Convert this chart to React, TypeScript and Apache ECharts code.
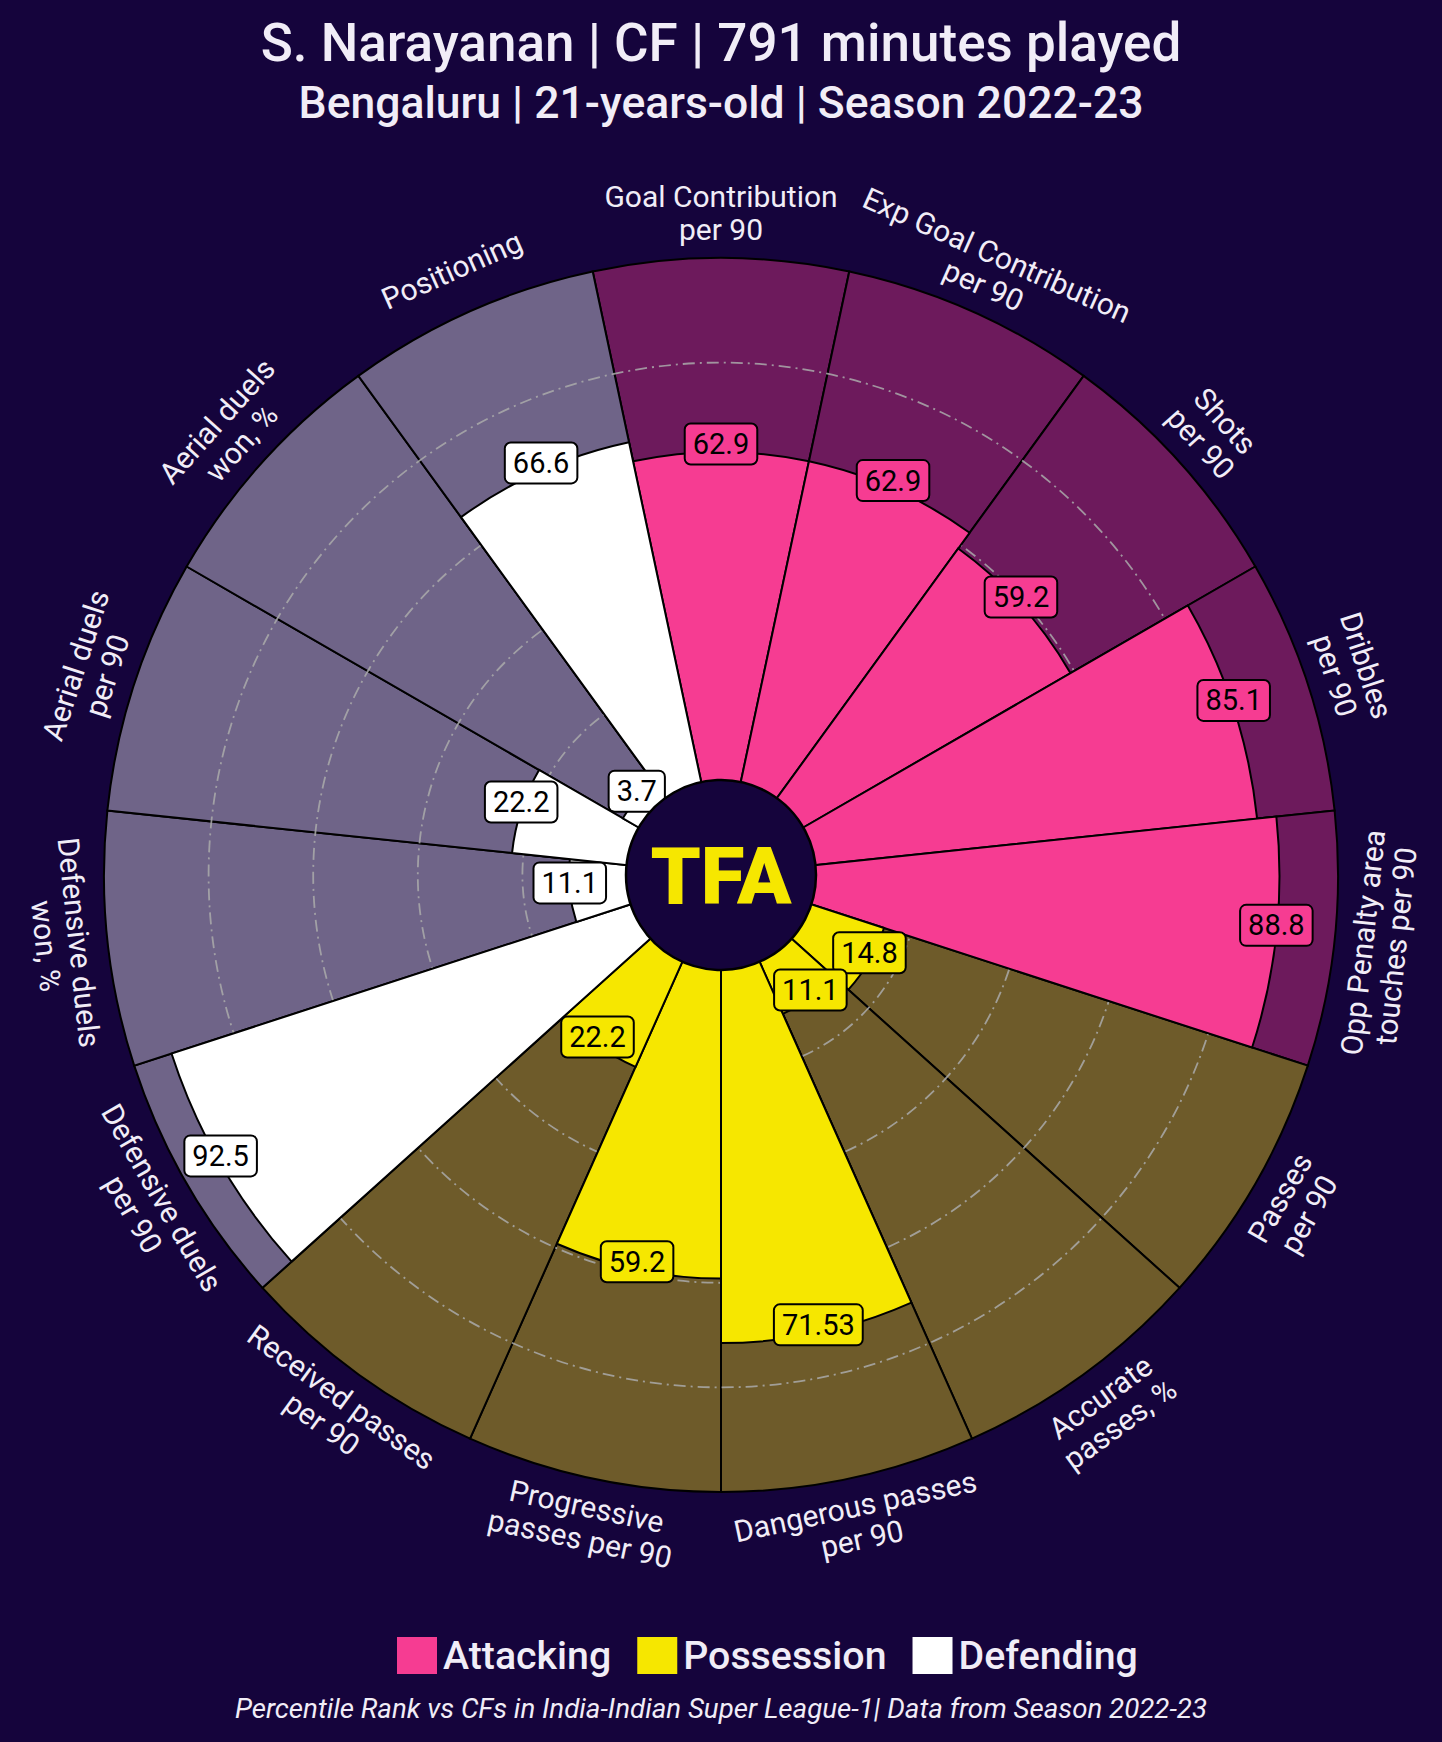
import React, { useEffect, useRef } from 'react';
import * as echarts from 'echarts';

const categories = [
  'Goal Contribution\nper 90',
  'Exp Goal Contribution\nper 90',
  'Shots\nper 90',
  'Dribbles\nper 90',
  'Opp Penalty area\ntouches per 90',
  'Passes\nper 90',
  'Accurate\npasses, %',
  'Dangerous passes\nper 90',
  'Progressive\npasses per 90',
  'Received passes\nper 90',
  'Defensive duels\nper 90',
  'Defensive duels\nwon, %',
  'Aerial duels\nper 90',
  'Aerial duels\nwon, %',
  'Positioning',
];
const values = [62.9, 62.9, 59.2, 85.1, 88.8, 14.8, 11.1, 71.53, 59.2, 22.2, 92.5, 11.1, 22.2, 3.7, 66.6];
const groups = [
  'Attacking', 'Attacking', 'Attacking', 'Attacking', 'Attacking',
  'Possession', 'Possession', 'Possession', 'Possession', 'Possession',
  'Defending', 'Defending', 'Defending', 'Defending', 'Defending',
];
const groupNames = ['Attacking', 'Possession', 'Defending'];
const gridValues = [20, 40, 60, 80];
const maxValue = 100;

const BG = '#15043c';
const TEXT = '#f1edf7';
const barColors: Record<string, string> = { Attacking: '#f63c92', Possession: '#f6e700', Defending: '#ffffff' };
const bgColors: Record<string, string> = { Attacking: '#6d1a5c', Possession: '#6e5b2a', Defending: '#6f6488' };
const FONT = 'Roboto, "Noto Sans", sans-serif';

export default function App() {
  const ref = useRef<HTMLDivElement>(null);
  useEffect(() => {
    document.body.style.margin = '0';
    document.body.style.background = BG;
    const chart = echarts.init(ref.current!, null, { renderer: 'svg' });
    const barCommon = {
      type: 'bar',
      coordinateSystem: 'polar',
      barCategoryGap: '0%',
      barGap: '-100%',
      silent: true,
    };
    const option: any = {
      animation: false,
      backgroundColor: BG,
      title: [
        {
          text: 'S. Narayanan | CF | 791 minutes played',
          left: 'center', top: 16, padding: 0,
          textStyle: { color: TEXT, fontSize: 53, fontWeight: 500, fontFamily: FONT },
        },
        {
          text: 'Bengaluru | 21-years-old | Season 2022-23',
          left: 'center', top: 80, padding: 0,
          textStyle: { color: TEXT, fontSize: 44.5, fontWeight: 500, fontFamily: FONT },
        },
        {
          text: 'Percentile Rank vs CFs in India-Indian Super League-1| Data from Season 2022-23',
          left: 'center', top: 1694, padding: 0,
          textStyle: { color: TEXT, fontSize: 27.7, fontWeight: 'normal', fontStyle: 'italic', fontFamily: FONT },
        },
      ],
      legend: {
        data: groupNames,
        left: 397, top: 1636, padding: 0,
        icon: 'rect', itemWidth: 40, itemHeight: 37, itemGap: 26,
        itemStyle: { borderWidth: 0 },
        textStyle: { color: TEXT, fontSize: 39.3, fontWeight: 500, fontFamily: FONT, padding: [0, 0, 0, 1] },
        selectedMode: false,
      },
      polar: { center: [721, 875], radius: [94, 617] },
      angleAxis: {
        type: 'category', data: categories, startAngle: 102, clockwise: true,
        axisLine: { show: false }, axisTick: { show: false }, axisLabel: { show: false }, splitLine: { show: false },
      },
      radiusAxis: {
        min: 0, max: maxValue,
        axisLine: { show: false }, axisTick: { show: false }, axisLabel: { show: false }, splitLine: { show: false },
      },
      series: [
        {
          ...barCommon,
          name: 'background',
          z: 1,
          data: categories.map((c, i) => ({ value: maxValue, itemStyle: { color: bgColors[groups[i]] } })),
          itemStyle: { borderColor: '#000', borderWidth: 2 },
        },
        {
          type: 'custom', coordinateSystem: 'polar', name: 'grid', z: 2, silent: true,
          data: gridValues.map((v) => [v, 0]),
          renderItem: (params: any, api: any) => {
            const cs = params.coordSys;
            const p = api.coord([api.value(0), 0]);
            const r = Math.hypot(p[0] - cs.cx, p[1] - cs.cy);
            return {
              type: 'circle',
              shape: { cx: cs.cx, cy: cs.cy, r },
              style: { fill: 'none', stroke: 'rgba(170,170,170,0.85)', lineWidth: 1.8, lineDash: [12, 5, 2, 5] },
            };
          },
        },
        ...groupNames.map((g) => ({
          ...barCommon,
          name: g,
          z: 3,
          data: values.map((v, i) => (groups[i] === g ? v : '-')),
          itemStyle: { color: barColors[g], borderColor: '#000', borderWidth: 2 },
        })),
        {
          type: 'custom', coordinateSystem: 'polar', name: 'valueLabels', z: 6, silent: true,
          data: values.map((v, i) => [v, i]),
          renderItem: (params: any, api: any) => {
            const i = api.value(1);
            const p = api.coord([api.value(0), i]);
            return {
              type: 'text',
              x: p[0], y: p[1] - 8,
              z2: 10,
              style: {
                text: String(values[i]),
                fill: '#000',
                fontSize: 29,
                fontFamily: FONT,
                align: 'center',
                verticalAlign: 'middle',
                backgroundColor: barColors[groups[i]],
                borderColor: '#000',
                borderWidth: 2,
                borderRadius: 5,
                padding: [4, 7, 4, 7],
                lineHeight: 31,
              },
            };
          },
        },
        {
          type: 'custom', coordinateSystem: 'polar', name: 'catLabels', z: 6, silent: true,
          data: categories.map((c, i) => [maxValue, i]),
          renderItem: (params: any, api: any) => {
            const cs = params.coordSys;
            const i = api.value(1);
            const p = api.coord([api.value(0), i]);
            const dx = p[0] - cs.cx;
            const dy = p[1] - cs.cy;
            const r = Math.hypot(dx, dy);
            const theta = Math.atan2(-dy, dx);
            const rr = r + 45;
            const deg = (theta * 180) / Math.PI;
            const rot = deg >= -0.5 ? deg - 90 : deg + 90;
            return {
              type: 'text',
              x: cs.cx + rr * Math.cos(theta),
              y: cs.cy - rr * Math.sin(theta),
              rotation: (rot * Math.PI) / 180,
              style: {
                text: categories[i],
                fill: TEXT,
                fontSize: 30,
                fontFamily: FONT,
                align: 'center',
                verticalAlign: 'middle',
                lineHeight: 33,
              },
            };
          },
        },
        {
          type: 'custom', coordinateSystem: 'polar', name: 'center', z: 8, silent: true,
          data: [[0, 0]],
          renderItem: (params: any) => {
            const cs = params.coordSys;
            return {
              type: 'group',
              children: [
                {
                  type: 'circle',
                  shape: { cx: cs.cx, cy: cs.cy, r: cs.r0 + 1 },
                  style: { fill: BG, stroke: '#000', lineWidth: 2.5 },
                },
                {
                  type: 'text',
                  x: cs.cx, y: cs.cy + 2,
                  style: {
                    text: 'TFA', fill: '#f6e700', fontSize: 80, fontWeight: 900,
                    fontFamily: FONT, align: 'center', verticalAlign: 'middle',
                  },
                },
              ],
            };
          },
        },
      ],
    };
    chart.setOption(option);
    return () => chart.dispose();
  }, []);
  return <div ref={ref} style={{ width: 1442, height: 1742 }} />;
}
